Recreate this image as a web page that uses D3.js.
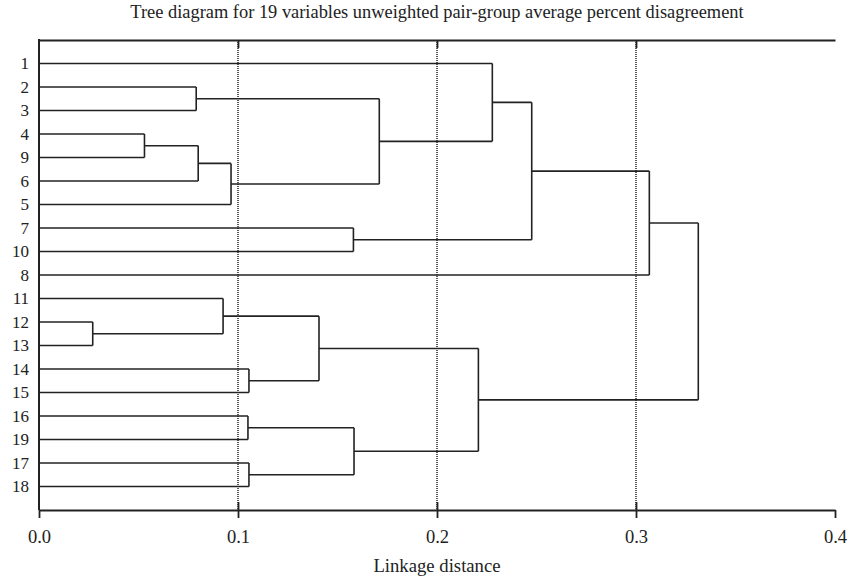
<!DOCTYPE html>
<html>
<head>
<meta charset="utf-8">
<script src="https://cdn.jsdelivr.net/npm/d3@7"></script>
<style>
  html, body { margin: 0; padding: 0; background: #fff; }
  svg text { font-family: "Liberation Serif", "Times New Roman", serif; fill: #222; }
</style>
</head>
<body>
<svg id="tree" width="849" height="580"></svg>
<script>
(function () {
  'use strict';

  // leaf order, top to bottom
  var leaves = ["1", "2", "3", "4", "9", "6", "5", "7", "10", "8",
                "11", "12", "13", "14", "15", "16", "19", "17", "18"];

  // linkage steps: [childA, childB, distance]; "mN" = result of step N
  var merges = [
    ["12", "13", 0.027],    // m0
    ["4", "9", 0.053],      // m1
    ["2", "3", 0.079],      // m2
    ["m1", "6", 0.080],     // m3
    ["11", "m0", 0.0925],   // m4
    ["m3", "5", 0.0965],    // m5
    ["16", "19", 0.105],    // m6
    ["14", "15", 0.1055],   // m7
    ["17", "18", 0.1055],   // m8
    ["m4", "m7", 0.1407],   // m9
    ["7", "10", 0.158],     // m10
    ["m6", "m8", 0.1583],   // m11
    ["m2", "m5", 0.171],    // m12
    ["m9", "m11", 0.2208],  // m13
    ["1", "m12", 0.2278],   // m14
    ["m14", "m10", 0.2476], // m15
    ["m15", "8", 0.3067],   // m16
    ["m16", "m13", 0.3313]  // m17
  ];

  var xTicks = [0, 0.1, 0.2, 0.3, 0.4];
  var gridTicks = [0.1, 0.2, 0.3];

  var titleText = "Tree diagram for 19 variables unweighted pair-group average percent disagreement";
  var xLabel = "Linkage distance";

  var left = 39, right = 835, top = 40, bottom = 510;
  var ink = "#222";

  var svg = d3.select("svg#tree");

  var x = d3.scaleLinear().domain([0, 0.4]).range([left, right]);
  var y = d3.scalePoint().domain(leaves).range([top, bottom]).padding(1);

  // build the nested tree from the linkage steps
  var nodes = {};
  leaves.forEach(function (l) { nodes[l] = { name: l, height: 0 }; });
  merges.forEach(function (m, i) {
    nodes["m" + i] = { name: "m" + i, height: m[2], children: [nodes[m[0]], nodes[m[1]]] };
  });
  var root = d3.hierarchy(nodes["m" + (merges.length - 1)]);

  root.eachAfter(function (d) {
    d.py = d.children ? d3.mean(d.children, function (c) { return c.py; }) : y(d.data.name);
  });

  // dotted reference lines
  svg.append("g").selectAll("line")
    .data(gridTicks)
    .enter().append("line")
    .attr("x1", function (d) { return x(d); })
    .attr("x2", function (d) { return x(d); })
    .attr("y1", top)
    .attr("y2", bottom)
    .attr("stroke", ink)
    .attr("stroke-width", 1.5)
    .attr("stroke-dasharray", "1,1");

  // dendrogram elbows
  var links = svg.append("g")
    .attr("fill", "none")
    .attr("stroke", ink)
    .attr("stroke-width", 1.6);

  root.descendants().filter(function (d) { return d.children; }).forEach(function (d) {
    var xp = x(d.data.height);
    links.append("line")
      .attr("x1", xp).attr("x2", xp)
      .attr("y1", d.children[0].py).attr("y2", d.children[1].py);
    d.children.forEach(function (c) {
      links.append("line")
        .attr("x1", x(c.data.height)).attr("x2", xp)
        .attr("y1", c.py).attr("y2", c.py);
    });
  });

  // frame: top line with inward ticks, left line
  var topAxis = svg.append("g")
    .attr("transform", "translate(0," + top + ")")
    .call(d3.axisTop(x).tickValues(gridTicks).tickSize(-8).tickSizeOuter(0).tickFormat(""));
  topAxis.select(".domain").attr("stroke", ink).attr("stroke-width", 2);
  topAxis.selectAll(".tick line").attr("stroke", ink).attr("stroke-width", 1.8);

  svg.append("line")
    .attr("x1", left).attr("x2", left)
    .attr("y1", top - 1).attr("y2", bottom)
    .attr("stroke", ink).attr("stroke-width", 2);

  // bottom axis, ticks crossing the line
  var xAxis = svg.append("g")
    .attr("transform", "translate(0," + bottom + ")")
    .call(d3.axisBottom(x).tickValues(xTicks).tickSize(8).tickSizeOuter(0)
      .tickPadding(12).tickFormat(d3.format(".1f")));
  xAxis.select(".domain").attr("stroke", ink).attr("stroke-width", 2);
  xAxis.selectAll(".tick line").attr("stroke", ink).attr("stroke-width", 1.8);
  xAxis.selectAll(".tick text")
    .style("font-family", '"Liberation Serif", "Times New Roman", serif')
    .style("font-size", "18.5px")
    .attr("fill", ink);

  svg.append("g")
    .attr("transform", "translate(0," + bottom + ")")
    .call(d3.axisTop(x).tickValues(gridTicks).tickSize(8).tickSizeOuter(0).tickFormat(""))
    .call(function (g) { g.select(".domain").remove(); })
    .selectAll(".tick line").attr("stroke", ink).attr("stroke-width", 1.8);

  // leaf labels
  svg.append("g").selectAll("text")
    .data(leaves)
    .enter().append("text")
    .attr("x", 29)
    .attr("y", function (d) { return y(d); })
    .attr("dy", "0.35em")
    .style("text-anchor", "end")
    .style("font-size", "17px")
    .text(function (d) { return d; });

  // titles
  svg.append("text")
    .attr("x", (left + right) / 2)
    .attr("y", 18)
    .style("text-anchor", "middle")
    .style("font-size", "18.4px")
    .text(titleText);

  svg.append("text")
    .attr("x", (left + right) / 2)
    .attr("y", 572)
    .style("text-anchor", "middle")
    .style("font-size", "18.7px")
    .text(xLabel);
}());
</script>
</body>
</html>
